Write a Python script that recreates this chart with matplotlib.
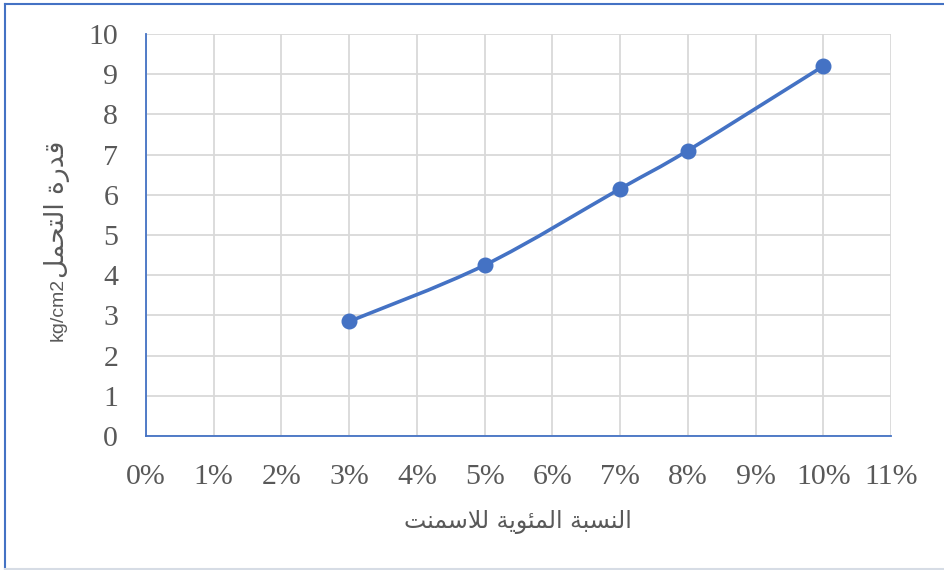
import matplotlib
matplotlib.use("Agg")
import matplotlib.pyplot as plt
from matplotlib.path import Path
from matplotlib.patches import PathPatch
from matplotlib.lines import Line2D
import numpy as np

# ---- data ----
cement_pct = [3, 5, 7, 8, 10]
strength = [2.85, 4.25, 6.15, 7.1, 9.2]
x_ticks = list(range(0, 12))
x_tick_labels = [f"{v}%" for v in x_ticks]
y_ticks = list(range(0, 11))

# Arabic titles (presentation forms, visual order)
w_nisba = "\uFE8D\uFEDF\uFEE8\uFEB4\uFE92\uFE94"        # النسبة
w_mi2awiya = "\uFE8D\uFEDF\uFEE4\uFE8C\uFEEE\uFEF3\uFE94"  # المئوية
w_lilasmant = "\uFEDF\uFEFC\uFEB3\uFEE4\uFEE8\uFE96"      # للاسمنت
x_title = (w_nisba + " " + w_mi2awiya + " " + w_lilasmant)[::-1]
w_qudra = "\uFED7\uFEAA\uFEAD\uFE93"                    # قدرة
w_tahammul = "\uFE8D\uFEDF\uFE98\uFEA4\uFEE4\uFEDE"     # التحمل
y_title_unit = "kg/cm2"
y_title_ar = (w_qudra + " " + w_tahammul)[::-1]

blue = "#4472C4"
grey_txt = "#595959"
grid_c = "#D9D9D9"

fig = plt.figure(figsize=(9.45, 5.7), dpi=100)
ax = fig.add_axes([146/945, 1-436/570, (891-146)/945, (436-34)/570])

ax.set_xlim(0, 11)
ax.set_ylim(0, 10)
ax.set_xticks(x_ticks)
ax.set_xticklabels(x_tick_labels)
ax.set_yticks(y_ticks)
ax.grid(True, color=grid_c, linewidth=1.3)
ax.set_axisbelow(True)
for s in ["top", "right"]:
    ax.spines[s].set_visible(False)
for s in ["left", "bottom"]:
    ax.spines[s].set_color(blue)
    ax.spines[s].set_linewidth(1.3)
    ax.spines[s].set_zorder(3)

ax.tick_params(axis="both", length=0, labelcolor=grey_txt, labelsize=21.5)
ax.tick_params(axis="y", pad=20)
ax.tick_params(axis="x", pad=20)
for lab in ax.get_xticklabels() + ax.get_yticklabels():
    lab.set_family(["Liberation Serif", "DejaVu Serif"])

# smoothed line (Excel-like Catmull-Rom bezier)
pts = np.column_stack([cement_pct, strength]).astype(float)
n = len(pts)
verts = [tuple(pts[0])]
codes = [Path.MOVETO]
for i in range(n - 1):
    p0 = pts[i - 1] if i > 0 else pts[i]
    p1 = pts[i]
    p2 = pts[i + 1]
    p3 = pts[i + 2] if i + 2 < n else pts[i + 1]
    c1 = p1 + (p2 - p0) / 6.0
    c2 = p2 - (p3 - p1) / 6.0
    verts += [tuple(c1), tuple(c2), tuple(p2)]
    codes += [Path.CURVE4] * 3
ax.add_patch(PathPatch(Path(verts, codes), facecolor="none", edgecolor=blue,
                       linewidth=2.6, capstyle="round", zorder=4))
ax.plot(cement_pct, strength, linestyle="none", marker="o", markersize=10.5,
        color=blue, zorder=5, clip_on=False)

fig.text(518/945, 1-522/570, x_title, ha="center", va="center",
         fontsize=17, color=grey_txt, family=["DejaVu Sans"])

# y title: unit part then Arabic part, stacked bottom-to-top
t_unit = fig.text(58/945, 1-341/570, y_title_unit, ha="center", va="bottom", rotation=90,
                  fontsize=14, color=grey_txt, family=["Liberation Sans", "DejaVu Sans"])
fig.canvas.draw()
bb = t_unit.get_window_extent(fig.canvas.get_renderer())
top_px = bb.y1 / fig.bbox.height
fig.text(57/945, top_px, y_title_ar, ha="center", va="bottom", rotation=90,
         fontsize=19, color=grey_txt, family=["DejaVu Sans"])

# outer chart border
fig.add_artist(Line2D([4.5/945, 4.5/945], [1-3.5/570, 0], color=blue, lw=1.5))
fig.add_artist(Line2D([4.5/945, 1], [1-3.5/570, 1-3.5/570], color=blue, lw=1.5))
fig.add_artist(Line2D([4.5/945, 1], [1-568.5/570, 1-568.5/570], color="#D6DCE5", lw=1.5))

fig.savefig("out.png", dpi=100, facecolor="white")
